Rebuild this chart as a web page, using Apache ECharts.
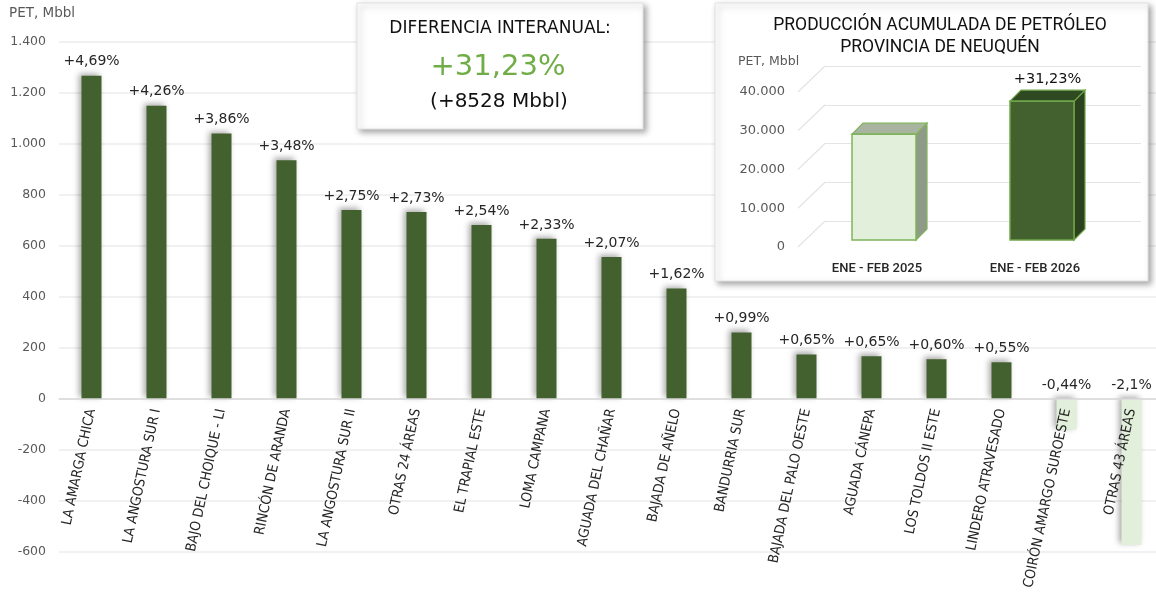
<!DOCTYPE html>
<html>
<head>
<meta charset="utf-8">
<script src="https://cdn.jsdelivr.net/npm/echarts@6/dist/echarts.min.js"></script>
<style>
  html, body { margin: 0; padding: 0; background: #fff; }
  #chart { width: 1156px; height: 594px; }
</style>
</head>
<body>
<div id="chart"></div>
<script>
// variación interanual por área (Mbbl)
const areas = [
  'LA AMARGA CHICA', 'LA ANGOSTURA SUR I', 'BAJO DEL CHOIQUE - LI', 'RINCÓN DE ARANDA',
  'LA ANGOSTURA SUR II', 'OTRAS 24 ÁREAS', 'EL TRAPIAL ESTE', 'LOMA CAMPANA',
  'AGUADA DEL CHAÑAR', 'BAJADA DE AÑELO', 'BANDURRIA SUR', 'BAJADA DEL PALO OESTE',
  'AGUADA CÁNEPA', 'LOS TOLDOS II ESTE', 'LINDERO ATRAVESADO', 'COIRÓN AMARGO SUROESTE',
  'OTRAS 43 ÁREAS'
]
const deltas = [1268, 1150, 1041, 936, 741, 733, 682, 628, 557, 433, 261, 175, 168, 156, 144, -120, -573]
const deltaLabels = [
  '+4,69%', '+4,26%', '+3,86%', '+3,48%', '+2,75%', '+2,73%', '+2,54%', '+2,33%',
  '+2,07%', '+1,62%', '+0,99%', '+0,65%', '+0,65%', '+0,60%', '+0,55%', '-0,44%', '-2,1%'
]
const yMin = -600
const yMax = 1400

// producción acumulada (Mbbl)
const periods = ['ENE - FEB 2025', 'ENE - FEB 2026']
const cumulative = [27307, 35835]
const cumulativeLabels = ['', '+31,23%']
const insetTicks = [0, 10000, 20000, 30000, 40000]

const diffTitle = 'DIFERENCIA INTERANUAL:'
const diffPct = '+31,23%'
const diffAbs = '(+8528 Mbbl)'

const fmtMiles = v => String(v).replace(/\B(?=(\d{3})+(?!\d))/g, '.')

const FONT = 'Roboto, "Noto Sans", sans-serif'
const WIDE = '"DejaVu Sans", sans-serif'
const NARROW = '"Liberation Sans Narrow", "DejaVu Sans Condensed", sans-serif'

const faces = [
  { front: '#e2efda', side: '#8f9b88', top: '#a8b3a0', border: '#7fb45a' },
  { front: '#43612f', side: '#2c421f', top: '#2f4a22', border: '#6fa548' },
]

const mainHeight = 510
// eje de categorías sobre el cero
const zeroOffset = -mainHeight * (0 - yMin) / (yMax - yMin)

const chart = echarts.init(document.getElementById('chart'))

const option = {
  backgroundColor: '#fff',
  animation: false,
  textStyle: { fontFamily: FONT },
  graphic: [
    { type: 'text', left: 9, top: 6, z: 1, style: { text: 'PET, Mbbl', fill: '#595959', font: '13.5px ' + WIDE } },
    // caja diferencia
    {
      type: 'rect', z: 5, shape: { x: 357, y: 3, width: 286, height: 126 },
      style: { fill: '#fff', stroke: '#e2e2e2', lineWidth: 1, shadowBlur: 6, shadowOffsetX: 3, shadowOffsetY: 3, shadowColor: 'rgba(0,0,0,0.35)' },
    },
    { type: 'text', z: 6, x: 500, y: 29, style: { text: diffTitle, align: 'center', verticalAlign: 'middle', fill: '#111', font: '17px ' + WIDE } },
    { type: 'text', z: 6, x: 498, y: 67, style: { text: diffPct, align: 'center', verticalAlign: 'middle', fill: '#70ad47', font: '29px ' + WIDE } },
    { type: 'text', z: 6, x: 499, y: 102, style: { text: diffAbs, align: 'center', verticalAlign: 'middle', fill: '#111', font: '20px ' + WIDE } },
    // caja acumulada
    {
      type: 'rect', z: 5, shape: { x: 715, y: 3, width: 433, height: 278 },
      style: { fill: '#fff', stroke: '#e2e2e2', lineWidth: 1, shadowBlur: 6, shadowOffsetX: 3, shadowOffsetY: 3, shadowColor: 'rgba(0,0,0,0.35)' },
    },
    { type: 'text', z: 11, x: 940, y: 26, style: { text: 'PRODUCCIÓN ACUMULADA DE PETRÓLEO', align: 'center', verticalAlign: 'middle', fill: '#111', font: '17.5px ' + FONT } },
    { type: 'text', z: 11, x: 940, y: 48, style: { text: 'PROVINCIA DE NEUQUÉN', align: 'center', verticalAlign: 'middle', fill: '#111', font: '17.5px ' + FONT } },
    { type: 'text', z: 11, x: 738, y: 55, style: { text: 'PET, Mbbl', fill: '#595959', font: '12.5px ' + WIDE } },
  ],
  grid: [
    { left: 59, top: 42, width: 1105, height: mainHeight, outerBoundsMode: 'none' },
    { left: 798, top: 92, width: 316, height: 155, outerBoundsMode: 'none' },
    { left: 825, top: 66, width: 316, height: 155, outerBoundsMode: 'none' },
  ],
  xAxis: [
    {
      type: 'category', gridIndex: 0, data: areas, z: 3,
      position: 'bottom', offset: zeroOffset,
      axisLine: { onZero: false, lineStyle: { color: '#d9d9d9', width: 1.5 } },
      axisTick: { show: false },
      axisLabel: { rotate: 78, margin: 10, color: '#262626', fontSize: 14, fontFamily: NARROW, interval: 0 },
    },
    {
      type: 'category', gridIndex: 1, data: periods, z: 10,
      axisLine: { show: false }, axisTick: { show: false },
      axisLabel: { margin: 15, color: '#262626', fontSize: 13, fontWeight: 500, fontFamily: FONT },
    },
    { type: 'category', gridIndex: 2, data: periods, show: false },
  ],
  yAxis: [
    {
      type: 'value', gridIndex: 0, min: yMin, max: yMax, interval: 200,
      axisLine: { show: false }, axisTick: { show: false },
      axisLabel: { margin: 13, color: '#595959', fontSize: 12.5, fontFamily: WIDE, formatter: fmtMiles },
      splitLine: { lineStyle: { color: '#ececec', width: 1.5 } },
    },
    {
      type: 'value', gridIndex: 1, min: 0, max: 40000, interval: 10000, z: 10,
      axisLine: { show: false }, axisTick: { show: false },
      axisLabel: { margin: 13, color: '#595959', fontSize: 13, fontFamily: WIDE, formatter: fmtMiles },
      splitLine: { show: false },
    },
    {
      type: 'value', gridIndex: 2, min: 0, max: 40000, interval: 10000, z: 10,
      axisLine: { show: false }, axisTick: { show: false }, axisLabel: { show: false },
      splitLine: { lineStyle: { color: '#e4e4e4', width: 1.2 } },
    },
  ],
  series: [
    {
      name: 'Variación',
      type: 'bar',
      xAxisIndex: 0, yAxisIndex: 0,
      barWidth: 20,
      data: deltas.map((v, i) => ({
        value: v,
        itemStyle: { color: v < 0 ? '#e2efda' : '#43612f' },
        label: { formatter: deltaLabels[i] },
      })),
      itemStyle: {
        shadowBlur: 6, shadowOffsetX: -3, shadowOffsetY: -2, shadowColor: 'rgba(0,0,0,0.35)',
      },
      label: { show: true, position: 'top', distance: 7, color: '#262626', fontSize: 14, fontFamily: WIDE },
    },
    {
      name: 'Diagonales',
      type: 'custom',
      xAxisIndex: 1, yAxisIndex: 1, z: 10,
      silent: true,
      data: insetTicks.map(v => [0, v]),
      renderItem: (params, api) => {
        const p = api.coord([0, api.value(1)])
        const x = params.coordSys.x
        return {
          type: 'line',
          shape: { x1: x, y1: p[1], x2: x + 27, y2: p[1] - 26 },
          style: { stroke: '#e4e4e4', lineWidth: 1.2 },
        }
      },
    },
    {
      name: 'Acumulada',
      type: 'custom',
      xAxisIndex: 1, yAxisIndex: 1, z: 11,
      data: cumulative.map((v, i) => [i, v]),
      renderItem: (params, api) => {
        const i = params.dataIndex
        const base = api.coord([api.value(0), 0])
        const top = api.coord([api.value(0), api.value(1)])
        const bw = api.size([1, 0])[0] * 0.405
        const ox = 7, oy = -7, d = 11
        const x0 = base[0] - bw / 2 + ox, x1 = x0 + bw
        const yb = base[1] + oy, yt = top[1] + oy
        const c = faces[i]
        return {
          type: 'group',
          children: [
            { type: 'polygon', shape: { points: [[x1, yt], [x1 + d, yt - d], [x1 + d, yb - d], [x1, yb]] }, style: { fill: c.side, stroke: c.border, lineWidth: 1.2 } },
            { type: 'polygon', shape: { points: [[x0, yt], [x0 + d, yt - d], [x1 + d, yt - d], [x1, yt]] }, style: { fill: c.top, stroke: c.border, lineWidth: 1.2 } },
            { type: 'rect', shape: { x: x0, y: yt, width: bw, height: yb - yt }, style: { fill: c.front, stroke: c.border, lineWidth: 1.5 } },
            {
              type: 'text', x: (x0 + x1 + d) / 2, y: yt - d - 3,
              style: { text: cumulativeLabels[i], align: 'center', verticalAlign: 'bottom', fill: '#111', font: '14.5px ' + WIDE },
            },
          ],
        }
      },
    },
  ],
}

chart.setOption(option)
window.addEventListener('resize', () => chart.resize())
</script>
</body>
</html>
